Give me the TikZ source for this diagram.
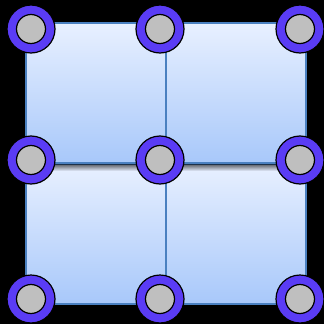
\documentclass[tikz,border=0pt]{standalone}
\usetikzlibrary{fadings}
\definecolor{ring}{HTML}{5A3CF5}
\definecolor{edge}{HTML}{4A80C0}
\definecolor{tiletop}{HTML}{E8F0FF}
\definecolor{tilebot}{HTML}{A8C8FA}

\begin{document}
\begin{tikzpicture}[x=1pt, y=-1pt,
    tile/.style={draw=edge, line width=1.6pt, top color=tiletop, bottom color=tilebot, minimum size=140pt, inner sep=0pt, anchor=north west},
    joint/.style={circle, draw=black, line width=1.2pt, fill=ring, minimum size=48pt, inner sep=0pt},
    hub/.style={circle, draw=black, line width=1.2pt, fill=black!25, minimum size=29pt, inner sep=0pt}
  ]
    \fill[black] (0,0) rectangle (324,324);
    \useasboundingbox (0,0) rectangle (324,324);

    % lower row of tiles
    \node[tile] (t3) at (25,163) {};
    \node[tile] (t4) at (165,163) {};

    % shadow thrown by the upper row
    \fill[black, opacity=0.7, path fading=south] (t3.north west) rectangle ([yshift=-8pt]t4.north east);

    % upper row of tiles
    \node[tile] (t1) at (25,22) {};
    \node[tile] (t2) at (165,22) {};

    % joints on the grid
    \foreach \x/\i in {31/0, 160/1, 300/2}
      \foreach \y/\j in {29/0, 160/1, 299/2} {
        \node[joint] (j\i\j) at (\x,\y) {};
        \node[hub] (h\i\j) at (j\i\j) {};
      }
  \end{tikzpicture}
\end{document}
